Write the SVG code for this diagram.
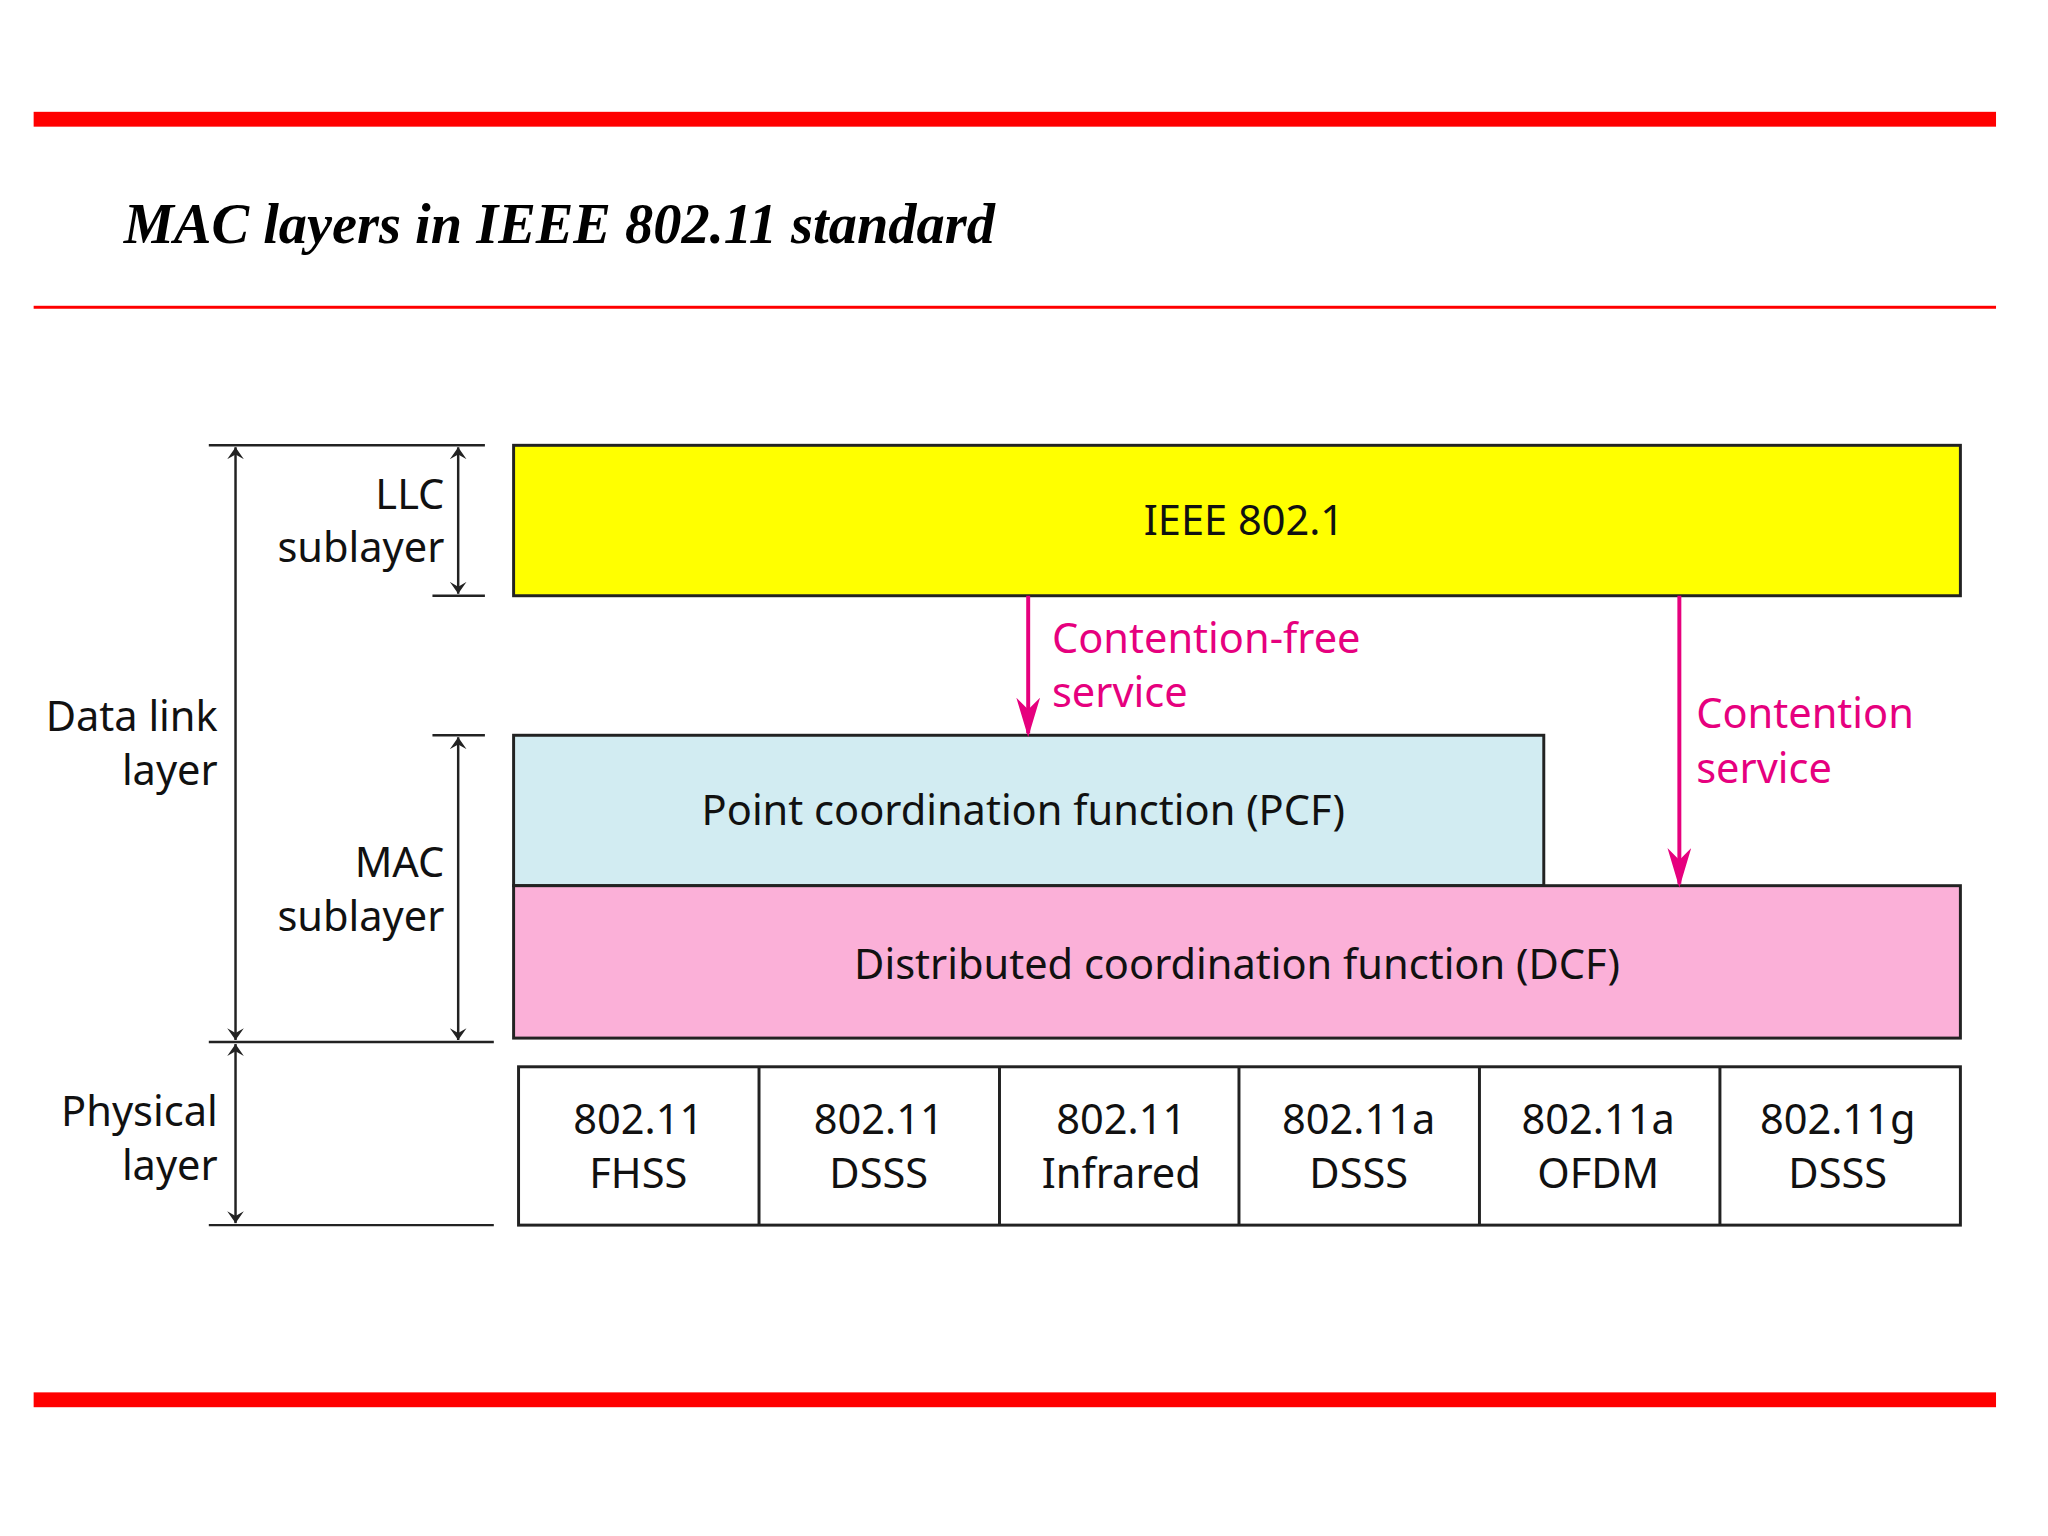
<svg xmlns="http://www.w3.org/2000/svg" width="2048" height="1536" viewBox="0 0 2048 1536">
<style>
.t{font-family:"Noto Sans","Open Sans",sans-serif;font-size:42px;fill:#111}
.m{text-anchor:middle}.r{text-anchor:end}
.p{font-family:"Noto Sans","Open Sans",sans-serif;font-size:42px;fill:#e6007e}
.b{stroke:#222;stroke-width:3}
.k{stroke:#222;stroke-width:2.5;fill:none}
</style>
<defs>
<marker id="a" viewBox="0 0 10 20" refX="10" refY="10" markerWidth="12" markerHeight="24" orient="auto-start-reverse" markerUnits="userSpaceOnUse"><path d="M0,3 L10,10 L0,17 L4,10 Z" fill="#222"/></marker>
<marker id="pa" viewBox="0 0 10 10" refX="9" refY="5" markerWidth="40" markerHeight="24" orient="auto" markerUnits="userSpaceOnUse" preserveAspectRatio="none"><path d="M0,0 L10,5 L0,10 L3,5 Z" fill="#e6007e"/></marker>
</defs>
<rect width="2048" height="1536" fill="#fff"/>
<g transform="scale(0.9896)">
<rect x="34" y="113" width="1983" height="15" fill="#f00"/>
<rect x="34" y="309" width="1983" height="3" fill="#f00"/>
<rect x="34" y="1407" width="1983" height="15" fill="#f00"/>
<text x="125" y="246" font-family="Liberation Serif,serif" font-size="57" font-weight="bold" font-style="italic" fill="#000">MAC layers in IEEE 802.11 standard</text>
<g id="llc"><rect x="519" y="450" width="1462" height="152" fill="#ffff00" class="b"/><text class="t m" x="1257" y="541">IEEE 802.1</text></g>
<g id="pcf"><rect x="519" y="743" width="1041" height="152" fill="#d2ecf2" class="b"/><text class="t m" x="1034" y="834">Point coordination function (PCF)</text></g>
<g id="dcf"><rect x="519" y="895" width="1462" height="154" fill="#fbb0d8" class="b"/><text class="t m" x="1250" y="989">Distributed coordination function (DCF)</text></g>
<g id="phy" fill="#fff">
<rect x="524" y="1078" width="1457" height="160" class="b"/>
<path d="M767,1078V1238M1010,1078V1238M1252,1078V1238M1495,1078V1238M1738,1078V1238" class="b"/>
<text class="t m" x="645" y="1146">802.11</text><text class="t m" x="645" y="1200">FHSS</text>
<text class="t m" x="888" y="1146">802.11</text><text class="t m" x="888" y="1200">DSSS</text>
<text class="t m" x="1133" y="1146">802.11</text><text class="t m" x="1133" y="1200">Infrared</text>
<text class="t m" x="1373" y="1146">802.11a</text><text class="t m" x="1373" y="1200">DSSS</text>
<text class="t m" x="1615" y="1146">802.11a</text><text class="t m" x="1615" y="1200">OFDM</text>
<text class="t m" x="1857" y="1146">802.11g</text><text class="t m" x="1857" y="1200">DSSS</text>
</g>
<g id="labels">
<text class="t r" x="449" y="514">LLC</text><text class="t r" x="449" y="568">sublayer</text>
<text class="t r" x="449" y="886">MAC</text><text class="t r" x="449" y="941">sublayer</text>
<text class="t r" x="220" y="739">Data link</text><text class="t r" x="220" y="793">layer</text>
<text class="t r" x="220" y="1138">Physical</text><text class="t r" x="220" y="1192">layer</text>
<text class="p" x="1063" y="660">Contention-free</text><text class="p" x="1063" y="714">service</text>
<text class="p" x="1714" y="736">Contention</text><text class="p" x="1714" y="791">service</text>
</g>
<g id="connectors">
<path d="M211,450H490M437,602H490M437,743H490M211,1053H499M211,1238H499" class="k"/>
<line x1="238" y1="452" x2="238" y2="1051" class="k" marker-start="url(#a)" marker-end="url(#a)"/>
<line x1="238" y1="1055" x2="238" y2="1236" class="k" marker-start="url(#a)" marker-end="url(#a)"/>
<line x1="463" y1="452" x2="463" y2="600" class="k" marker-start="url(#a)" marker-end="url(#a)"/>
<line x1="463" y1="745" x2="463" y2="1051" class="k" marker-start="url(#a)" marker-end="url(#a)"/>
<line x1="1039" y1="602" x2="1039" y2="741" stroke="#e6007e" stroke-width="4" marker-end="url(#pa)"/>
<line x1="1697" y1="602" x2="1697" y2="893" stroke="#e6007e" stroke-width="4" marker-end="url(#pa)"/>
</g>
</g>
</svg>
